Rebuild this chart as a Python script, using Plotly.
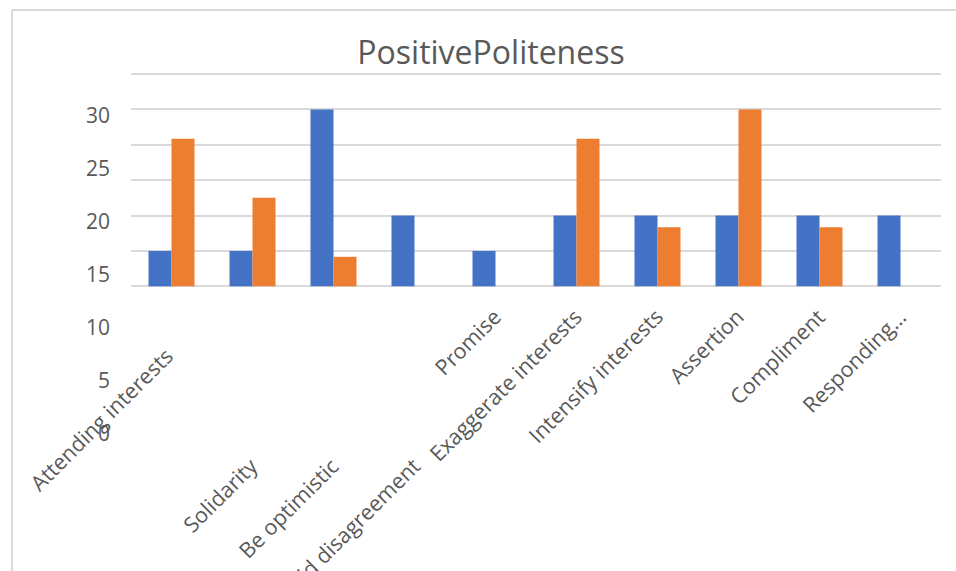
import plotly.graph_objects as go

# Data
categories = [
    "Attending interests", "Solidarity", "Be optimistic", "Avoid disagreement",
    "Promise", "Exaggerate interests", "Intensify interests", "Assertion",
    "Compliment", "Responding\u2026",
]
series_1 = [6, 6, 30, 12, 6, 12, 12, 12, 12, 12]
series_2 = [25, 15, 5, 0, 0, 25, 10, 30, 10, 0]
grid_values = [0, 6, 12, 18, 24, 30, 36]
tick_values = [0, 5, 10, 15, 20, 25, 30]
tick_labels = ["0", "5", "10", "15", "20", "25", "30"]

# Layout geometry (pixels)
W, H = 956, 571
M_L, M_R, M_T, M_B = 131, 15, 64, 5
PLOT_TOP, PLOT_BOTTOM = M_T, H - M_B
BASE_PX, TOP_GRID_PX = 286.3, 74.0
PPU = (BASE_PX - TOP_GRID_PX) / grid_values[-1]
y_range = [-(PLOT_BOTTOM - BASE_PX) / PPU, grid_values[-1] + (TOP_GRID_PX - PLOT_TOP) / PPU]

# left-hand value labels sit on their own scale
ZERO2_PX, THIRTY2_PX = 434.0, 116.0
PPU2 = (ZERO2_PX - THIRTY2_PX) / 30
y2_range = [-(PLOT_BOTTOM - ZERO2_PX) / PPU2, 30 + (THIRTY2_PX - PLOT_TOP) / PPU2]

TEXT = "#595959"
GRID = "#d9d9d9"
FONT = "Open Sans"

fig = go.Figure()
fig.add_trace(go.Bar(
    x=categories, y=series_1, name="Series 1",
    marker=dict(color="#4472C4", line=dict(width=0)),
))
fig.add_trace(go.Bar(
    x=categories, y=series_2, name="Series 2",
    marker=dict(color="#ED7D31", line=dict(width=0)),
))
# invisible trace that carries the left scale
fig.add_trace(go.Scatter(
    x=[categories[0]], y=[0], yaxis="y2", mode="markers",
    marker=dict(opacity=0), showlegend=False, hoverinfo="skip",
))

# rotated category labels; the drop of each label's end below the baseline (px)
label_drop_px = [52, 162, 162, 162, 13, 13, 13, 13, 13, 13]
label_xshift_px = [11, 14, 14, 14, 14, 14, 14, 14, 14, 14]
annotations = []
for cat, drop, dx in zip(categories, label_drop_px, label_xshift_px):
    annotations.append(dict(
        x=cat, xref="x", y=-(drop) / PPU, yref="y",
        text=cat, textangle=-45, showarrow=False,
        xanchor="right", yanchor="top", xshift=dx,
        font=dict(family=FONT, size=21.5, color=TEXT),
    ))

# chart frame
fx0 = (12 - M_L) / (W - M_L - M_R)
fx1 = (W - M_L) / (W - M_L - M_R)
fy_top = (PLOT_BOTTOM - 10) / (PLOT_BOTTOM - PLOT_TOP)
fy_bot = (PLOT_BOTTOM - H) / (PLOT_BOTTOM - PLOT_TOP)
shapes = [
    dict(type="line", xref="paper", yref="paper", x0=fx0, x1=fx0, y0=fy_bot, y1=fy_top,
         line=dict(color=GRID, width=2)),
    dict(type="line", xref="paper", yref="paper", x0=fx0, x1=fx1, y0=fy_top, y1=fy_top,
         line=dict(color=GRID, width=2)),
]

fig.update_layout(
    width=W, height=H,
    margin=dict(l=M_L, r=M_R, t=M_T, b=M_B),
    paper_bgcolor="white", plot_bgcolor="white",
    barmode="group", bargap=0.432, bargroupgap=0,
    showlegend=False,
    title=dict(
        text="PositivePoliteness", x=491 / W, xref="container", xanchor="center",
        y=1 - 53 / H, yref="container", yanchor="middle",
        font=dict(family=FONT, size=32, color=TEXT),
    ),
    xaxis=dict(
        range=[-0.5, len(categories) - 0.5], showticklabels=False,
        showgrid=False, zeroline=False, showline=False, ticks="",
    ),
    yaxis=dict(
        range=y_range, tickvals=grid_values, showticklabels=False,
        showgrid=True, gridcolor=GRID, gridwidth=2, zeroline=False, ticks="",
    ),
    yaxis2=dict(
        range=y2_range, overlaying="y", side="left",
        tickvals=tick_values, ticktext=tick_labels, showgrid=False, zeroline=False,
        ticks="", ticklabelstandoff=20,
        tickfont=dict(family=FONT, size=21, color=TEXT),
    ),
    annotations=annotations,
    shapes=shapes,
)

fig.write_html("out.html")
